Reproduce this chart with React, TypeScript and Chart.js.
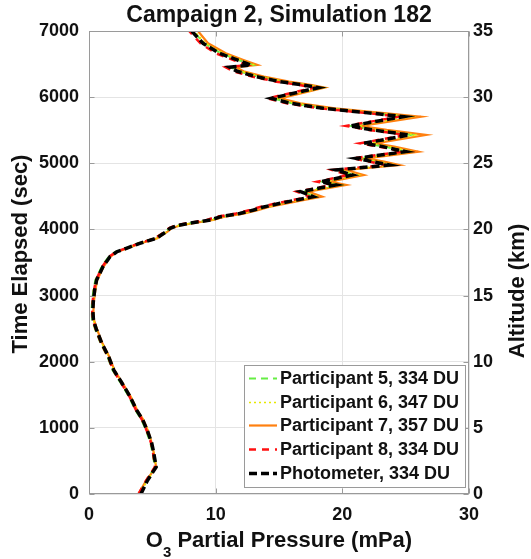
import React, { useEffect, useRef } from "react";
import { Chart, registerables } from "chart.js";

Chart.register(...registerables);

// ---- data ----
const timeSec = [
  0, 200, 408, 635, 771, 937, 1119, 1270, 1471, 1678,
  1875, 2076, 2283, 2480, 2631, 2782, 2933, 3084, 3235, 3437,
  3588, 3663, 3714, 3790, 3865, 3966, 4017, 4060, 4092, 4143,
  4193, 4240, 4294, 4340, 4395, 4450, 4496, 4571, 4672, 4722,
  4823, 4899, 4974, 5025, 5075, 5176, 5252, 5302, 5428, 5504,
  5564, 5705, 5756, 5831, 5907, 5982, 6143, 6184, 6234, 6310,
  6391, 6452, 6486, 6562, 6663, 6814, 7000,
];

const participant5 = [
  4.0, 4.5, 5.2, 5.0, 4.85, 4.55, 4.15, 3.65, 3.15, 2.5,
  1.85, 1.45, 0.9, 0.5, 0.25, 0.2, 0.25, 0.35, 0.5, 1.0,
  1.55, 2.1, 2.85, 3.9, 5.2, 6.0, 6.35, 7.0, 7.9, 9.6,
  10.4, 11.9, 13.0, 13.8, 15.1, 16.5, 17.8, 16.8, 19.6, 18.4,
  20.9, 19.6, 23.8, 22.5, 21.2, 25.1, 23.3, 21.8, 25.4, 22.5,
  20.7, 24.9, 22.5, 18.6, 16.0, 14.5, 18.2, 17.0, 15.2, 13.3,
  11.8, 11.2, 12.9, 11.8, 10.4, 9.1, 8.2,
];

const participant6 = [
  4.0, 4.6, 5.3, 5.1, 4.95, 4.7, 4.3, 3.8, 3.3, 2.6,
  1.95, 1.55, 1.0, 0.6, 0.35, 0.3, 0.35, 0.45, 0.6, 1.1,
  1.65, 2.2, 3.0, 4.05, 5.35, 6.15, 6.45, 7.1, 8.0, 9.7,
  10.6, 12.1, 13.2, 14.0, 15.4, 16.8, 18.1, 17.0, 19.9, 18.7,
  21.3, 19.9, 24.2, 22.9, 21.6, 25.6, 23.7, 22.2, 25.9, 22.9,
  21.1, 25.4, 22.9, 18.9, 16.3, 14.8, 18.5, 17.3, 15.5, 13.6,
  12.0, 11.4, 13.1, 12.0, 10.6, 9.2, 8.3,
];

const participant7 = [
  3.9, 4.5, 5.3, 5.1, 4.95, 4.7, 4.3, 3.8, 3.3, 2.65,
  2.0, 1.6, 1.05, 0.65, 0.4, 0.35, 0.4, 0.5, 0.65, 1.15,
  1.7, 2.25, 3.0, 4.1, 5.4, 6.2, 6.5, 7.2, 8.1, 9.8,
  10.7, 12.2, 13.4, 14.2, 15.6, 17.1, 18.4, 17.3, 20.3, 19.0,
  21.7, 20.3, 24.5, 23.3, 21.9, 26.0, 24.1, 22.6, 26.6, 23.5,
  21.5, 26.2, 23.5, 19.4, 16.7, 15.1, 18.6, 17.6, 15.8, 13.8,
  12.2, 11.6, 13.3, 12.2, 10.8, 9.4, 8.6,
];

const participant8 = [
  3.9, 4.5, 5.2, 5.05, 4.9, 4.6, 4.2, 3.7, 3.2, 2.55,
  1.9, 1.5, 0.95, 0.55, 0.3, 0.25, 0.3, 0.4, 0.55, 1.05,
  1.6, 2.15, 2.9, 3.95, 5.2, 6.0, 6.3, 6.8, 7.7, 9.3,
  10.1, 11.6, 12.7, 13.5, 14.8, 16.2, 17.4, 16.4, 19.2, 18.0,
  20.5, 19.2, 23.4, 22.1, 20.8, 24.8, 22.9, 21.4, 25.0, 22.1,
  20.3, 24.5, 22.1, 18.2, 15.6, 14.1, 17.8, 16.6, 14.8, 12.9,
  11.4, 10.8, 12.5, 11.4, 10.0, 8.8, 7.9,
];

const photometer = [
  4.1, 4.6, 5.3, 5.1, 4.95, 4.65, 4.25, 3.75, 3.25, 2.6,
  1.95, 1.55, 1.0, 0.6, 0.35, 0.3, 0.35, 0.45, 0.6, 1.1,
  1.65, 2.2, 2.95, 4.0, 5.3, 6.1, 6.4, 7.0, 7.9, 9.6,
  10.4, 11.9, 13.0, 13.8, 15.1, 16.5, 17.7, 16.7, 19.5, 18.3,
  20.8, 19.5, 23.7, 22.4, 21.1, 25.0, 23.2, 21.7, 25.3, 22.4,
  20.6, 24.8, 22.4, 18.5, 15.9, 14.4, 18.1, 16.9, 15.1, 13.2,
  11.7, 11.1, 12.8, 11.7, 10.3, 9.0, 8.1,
];

const seriesLabels = [
  "Participant 5, 334 DU",
  "Participant 6, 347 DU",
  "Participant 7, 357 DU",
  "Participant 8, 334 DU",
  "Photometer, 334 DU",
];
const seriesValues = [participant5, participant6, participant7, participant8, photometer];

// styles
const seriesColors = ["#66ee44", "#e8e800", "#ff8010", "#ff1010", "#000000"];
const seriesDash = [[7, 5], [2, 3], [], [7, 6], [8, 4]];
const seriesWidths = [2, 1.6, 2.2, 2.5, 3.5];
const seriesOrder = [3, 2, 4, 1, 0];

const titleText = "Campaign 2, Simulation 182";
const xAxisRange = [0, 30];
const timeRange = [0, 7000];
const altitudeRange = [0, 35];

const FONT = "'Liberation Sans', Arial, Helvetica, sans-serif";
const TEXT = "#111111";
const GRID = "#e4e4e4";
const AXIS = "#9a9a9a";

const decor = {
  id: "decor",
  afterDatasetsDraw(chart: any) {
    const { ctx, chartArea: a, scales } = chart;
    ctx.save();
    ctx.strokeStyle = AXIS;
    ctx.lineWidth = 1;
    const L = Math.round(a.left) + 0.5;
    const R = Math.round(a.right) - 0.5;
    const T = Math.round(a.top) + 0.5;
    const B = Math.round(a.bottom) - 0.5;
    ctx.strokeRect(L, T, R - L, B - T);
    ctx.beginPath();
    const tk = 5;
    scales.x.ticks.forEach((t: any) => {
      const px = Math.round(scales.x.getPixelForValue(t.value)) + 0.5;
      ctx.moveTo(px, B); ctx.lineTo(px, B - tk);
      ctx.moveTo(px, T); ctx.lineTo(px, T + tk);
    });
    scales.y.ticks.forEach((t: any) => {
      const py = Math.round(scales.y.getPixelForValue(t.value)) + 0.5;
      ctx.moveTo(L, py); ctx.lineTo(L + tk, py);
    });
    scales.y2.ticks.forEach((t: any) => {
      const py = Math.round(scales.y2.getPixelForValue(t.value)) + 0.5;
      ctx.moveTo(R, py); ctx.lineTo(R - tk, py);
    });
    ctx.stroke();

    // legend
    const lx = 244, ly = 365, lw = 221, lh = 122;
    ctx.fillStyle = "#ffffff";
    ctx.fillRect(lx, ly, lw, lh);
    ctx.strokeStyle = AXIS;
    ctx.strokeRect(lx + 0.5, ly + 0.5, lw, lh);
    ctx.font = `bold 18px ${FONT}`;
    ctx.textAlign = "left";
    ctx.textBaseline = "middle";
    seriesLabels.forEach((lab, i) => {
      const y = Math.round(ly + 13 + i * 23.7) + 0.5;
      ctx.save();
      ctx.strokeStyle = seriesColors[i];
      ctx.lineWidth = seriesWidths[i];
      ctx.setLineDash(seriesDash[i]);
      ctx.beginPath();
      ctx.moveTo(249, y);
      ctx.lineTo(277, y);
      ctx.stroke();
      ctx.restore();
      ctx.fillStyle = TEXT;
      ctx.fillText(lab, 280, y + 1);
    });
    ctx.restore();
  },
  afterDraw(chart: any) {
    const { ctx, chartArea: a } = chart;
    const cx = (a.left + a.right) / 2;
    ctx.save();
    ctx.fillStyle = TEXT;
    ctx.font = `bold 23px ${FONT}`;
    ctx.textAlign = "center";
    ctx.textBaseline = "alphabetic";
    ctx.fillText(titleText, cx, 22);
    ctx.font = `bold 22px ${FONT}`;
    ctx.save();
    ctx.translate(27, 254);
    ctx.rotate(-Math.PI / 2);
    ctx.fillText("Time Elapsed (sec)", 0, 0);
    ctx.restore();
    ctx.save();
    ctx.translate(524, 291);
    ctx.rotate(-Math.PI / 2);
    ctx.fillText("Altitude (km)", 0, 0);
    ctx.restore();
    const big = `bold 22px ${FONT}`;
    const small = `bold 15px ${FONT}`;
    ctx.font = big;
    const wO = ctx.measureText("O").width;
    const rest = " Partial Pressure (mPa)";
    const wRest = ctx.measureText(rest).width;
    ctx.font = small;
    const w3 = ctx.measureText("3").width;
    const total = wO + w3 + wRest;
    const x0 = cx - total / 2;
    ctx.textAlign = "left";
    ctx.font = big;
    ctx.fillText("O", x0, 547);
    ctx.font = small;
    ctx.fillText("3", x0 + wO, 557);
    ctx.font = big;
    ctx.fillText(rest, x0 + wO + w3, 547);
    ctx.restore();
  },
};

export default function App() {
  const ref = useRef<HTMLCanvasElement>(null);
  useEffect(() => {
    const canvas = ref.current;
    if (!canvas) return;
    const tickFont = { family: FONT, size: 18, weight: "bold" as const };
    const plain = (v: any) => String(v);
    const datasets = seriesValues.map((vals, i) => ({
      label: seriesLabels[i],
      data: vals.map((p, k) => ({ x: p, y: timeSec[k] })),
      showLine: true,
      borderColor: seriesColors[i],
      backgroundColor: seriesColors[i],
      borderWidth: seriesWidths[i],
      borderDash: seriesDash[i],
      pointRadius: 0,
      tension: 0,
      order: seriesOrder[i],
    }));
    const chart = new Chart(canvas, {
      type: "scatter",
      data: { datasets },
      options: {
        responsive: false,
        animation: false,
        devicePixelRatio: 1,
        layout: { padding: { top: 31, left: 0, right: 0, bottom: 0 } },
        plugins: {
          legend: { display: false },
          tooltip: { enabled: false },
          title: { display: false },
        },
        scales: {
          x: {
            type: "linear",
            position: "bottom",
            min: xAxisRange[0],
            max: xAxisRange[1],
            ticks: { stepSize: 10, font: tickFont, color: TEXT, padding: 10, callback: plain },
            grid: { color: GRID, drawTicks: false },
            border: { display: false },
            afterFit: (s: any) => { s.height = 65; },
          },
          y: {
            type: "linear",
            position: "left",
            min: timeRange[0],
            max: timeRange[1],
            ticks: { stepSize: 1000, font: tickFont, color: TEXT, padding: 10, callback: plain },
            grid: { color: GRID, drawTicks: false },
            border: { display: false },
            afterFit: (s: any) => { s.width = 89; },
          },
          y2: {
            type: "linear",
            position: "right",
            min: altitudeRange[0],
            max: altitudeRange[1],
            ticks: { stepSize: 5, font: tickFont, color: TEXT, padding: 4, callback: plain },
            grid: { display: false, drawTicks: false },
            border: { display: false },
            afterFit: (s: any) => { s.width = 62; },
          },
        },
      },
      plugins: [decor],
    });
    return () => chart.destroy();
  }, []);
  return (
    <div style={{ position: "absolute", left: 0, top: 0, width: 531, height: 559, background: "#fff" }}>
      <canvas ref={ref} width={531} height={559} style={{ display: "block" }} />
    </div>
  );
}
